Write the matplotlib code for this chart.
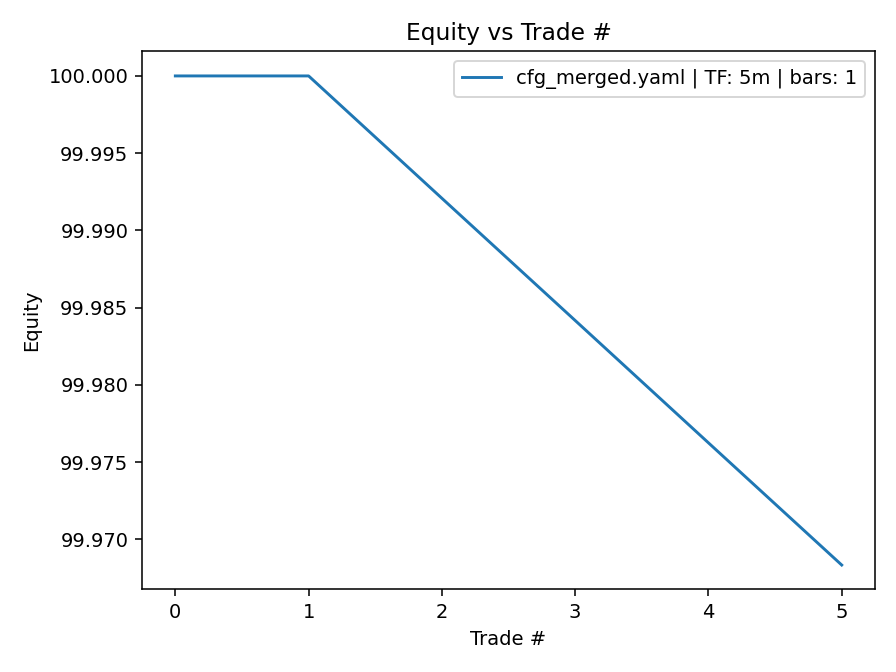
import matplotlib
matplotlib.use("Agg")
import matplotlib.pyplot as plt

# trade number and equity after each trade
trades = [0, 1, 2, 3, 4, 5]
equity = [100.0, 100.0, 99.99208, 99.98417, 99.97625, 99.96834]
label = "cfg_merged.yaml | TF: 5m | bars: 1"

fig, ax = plt.subplots(figsize=(6.4, 4.8), dpi=140)
ax.plot(trades, equity, label=label)
ax.set_title("Equity vs Trade #")
ax.set_xlabel("Trade #")
ax.set_ylabel("Equity")
ax.legend()
fig.subplots_adjust(left=0.1585, right=0.9766, top=0.9234, bottom=0.1228)
fig.savefig("out.png")
